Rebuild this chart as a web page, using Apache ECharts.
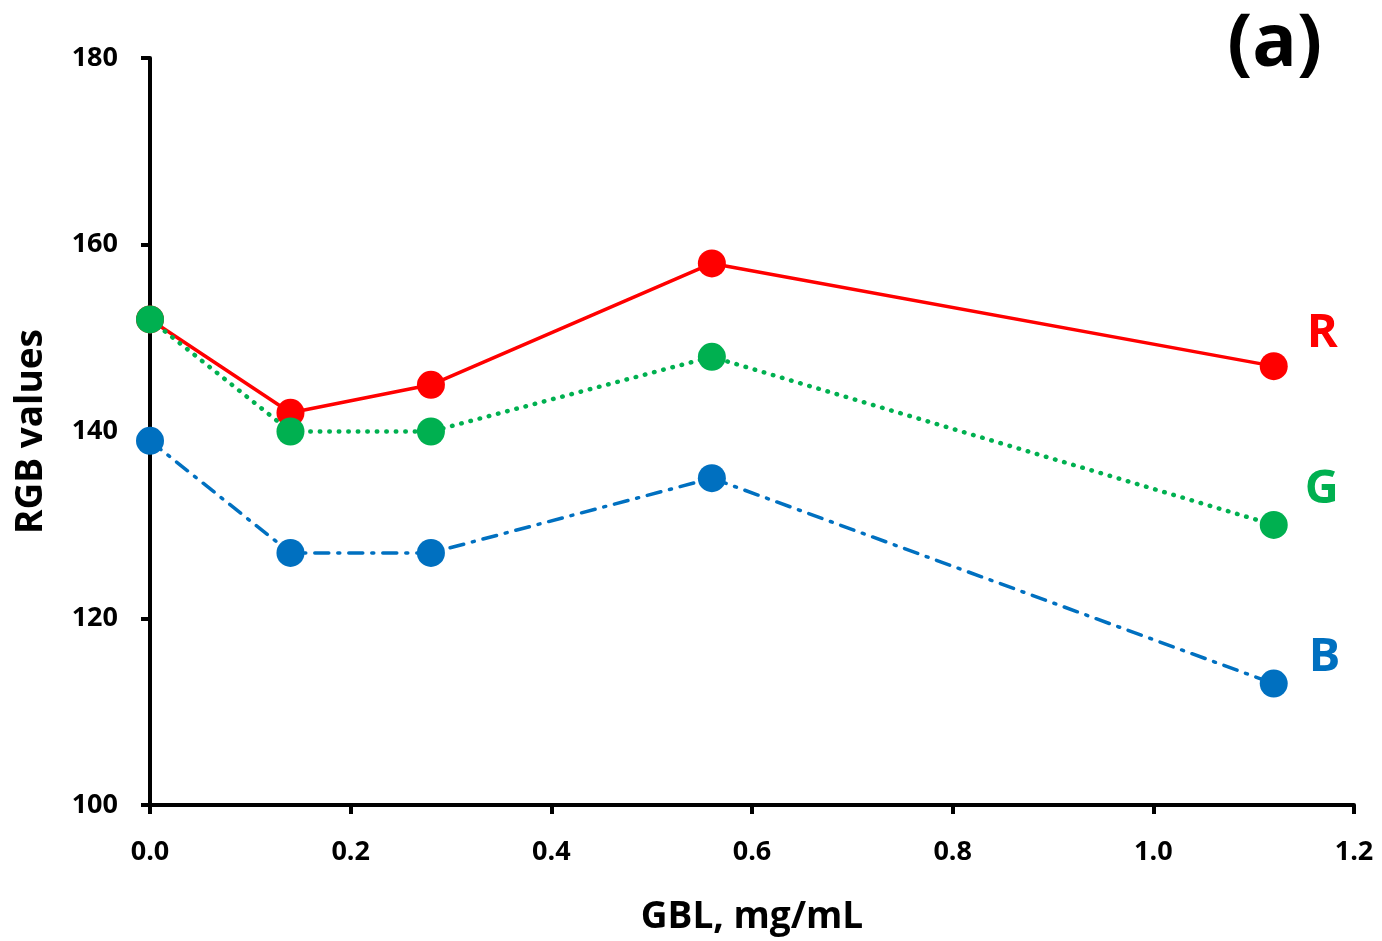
<!DOCTYPE html>
<html>
<head>
<meta charset="utf-8">
<script src="https://cdn.jsdelivr.net/npm/echarts@6/dist/echarts.min.js"></script>
<style>
  html, body { margin: 0; padding: 0; background: #fff; }
  #main { width: 1382px; height: 941px; }
</style>
</head>
<body>
<div id="main"></div>
<script>
var myChart = echarts.init(document.getElementById('main'));

// GBL concentration, mg/mL
var gbl = [0, 0.14, 0.28, 0.56, 1.12];
var rValues = [152, 142, 145, 158, 147];
var gValues = [152, 140, 140, 148, 130];
var bValues = [139, 127, 127, 135, 113];
var seriesNames = ['R', 'G', 'B'];
var seriesColors = ['#ff0000', '#00b050', '#0070c0'];

var FONT = '"Open Sans", "Noto Sans", sans-serif';

var pairs = function(xs, ys) {
    var res = [];
    for (var i = 0; i < xs.length; i++) {
        res.push([xs[i], ys[i]]);
    }
    return res;
};

var makeSeries = function(name, values, color, lineType, width, labelOffset) {
    return {
        name: name,
        type: 'line',
        data: pairs(gbl, values),
        symbol: 'circle',
        symbolSize: 28,
        itemStyle: { color: color },
        lineStyle: { color: color, width: width, type: lineType, cap: 'round' },
        label: {
            show: true,
            position: 'right',
            offset: labelOffset,
            fontFamily: FONT,
            fontWeight: 'bold',
            fontSize: 47,
            color: color,
            formatter: function(p) {
                return p.dataIndex === values.length - 1 ? name : '';
            }
        },
        animation: false
    };
};

option = {
    backgroundColor: '#fff',
    grid: { left: 150, right: 28, top: 58, bottom: 135, containLabel: false },
    graphic: [{
        type: 'text',
        right: 60,
        top: 8,
        style: {
            text: '(a)',
            font: 'bold 74px ' + FONT,
            fill: '#000'
        }
    }],
    xAxis: {
        type: 'value',
        min: 0,
        max: 1.2,
        interval: 0.2,
        name: 'GBL, mg/mL',
        nameLocation: 'middle',
        nameGap: 94,
        nameTextStyle: { fontFamily: FONT, fontWeight: 'bold', fontSize: 37, color: '#000' },
        axisLine: { lineStyle: { color: '#000', width: 4 } },
        axisTick: { show: true, inside: false, length: 9, lineStyle: { color: '#000', width: 4 } },
        axisLabel: {
            margin: 34,
            fontFamily: FONT, fontWeight: 'bold', fontSize: 27, color: '#000',
            formatter: function(v) { return v.toFixed(1); }
        },
        splitLine: { show: false }
    },
    yAxis: {
        type: 'value',
        min: 100,
        max: 180,
        interval: 20,
        name: 'RGB values',
        nameLocation: 'middle',
        nameGap: 100,
        nameRotate: 90,
        nameTextStyle: { fontFamily: FONT, fontWeight: 'bold', fontSize: 37, color: '#000' },
        axisLine: { show: true, lineStyle: { color: '#000', width: 4 } },
        axisTick: { show: true, inside: false, length: 9, lineStyle: { color: '#000', width: 4 } },
        axisLabel: {
            margin: 32,
            fontFamily: FONT, fontWeight: 'bold', fontSize: 27, color: '#000'
        },
        splitLine: { show: false }
    },
    series: [
        makeSeries(seriesNames[0], rValues, seriesColors[0], 'solid', 3.5, [14, -33]),
        makeSeries(seriesNames[1], gValues, seriesColors[1], [0.5, 9], 4.5, [12, -35]),
        makeSeries(seriesNames[2], bValues, seriesColors[2], [14, 9, 2, 9], 3.5, [16, -26])
    ]
};

myChart.setOption(option);
</script>
</body>
</html>
